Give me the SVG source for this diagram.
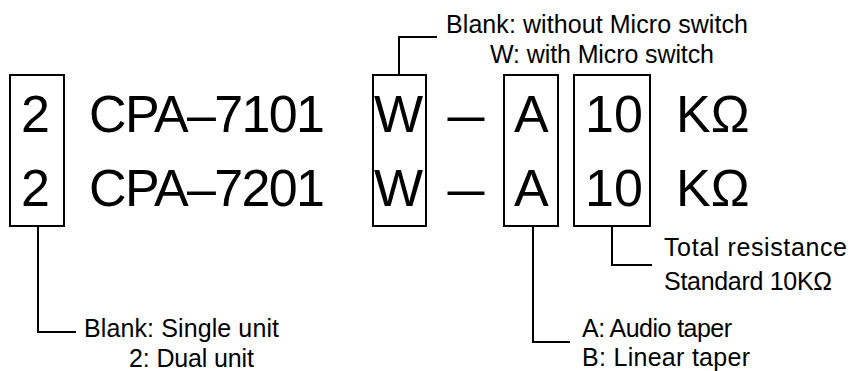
<svg xmlns="http://www.w3.org/2000/svg" width="855" height="371" viewBox="0 0 855 371">
<style>
.box{fill:none;stroke:#000;stroke-width:2}
.ln{fill:none;stroke:#000;stroke-width:2}
.big{font-family:"Liberation Sans",Arial,sans-serif;font-size:52px;fill:#000}
.sm{font-family:"Liberation Sans",Arial,sans-serif;font-size:25px;fill:#000}
</style>
<rect width="855" height="371" fill="#fff"/>
<g id="n-units">
<rect class="box" x="10" y="75" width="54" height="151"/>
<text class="big" x="21" y="132">2</text>
<text class="big" x="21" y="206">2</text>
</g>
<g id="n-model">
<text class="big" x="89" y="132" textLength="236">CPA–7101</text>
<text class="big" x="89" y="206" textLength="236">CPA–7201</text>
</g>
<g id="n-switch">
<rect class="box" x="373" y="75" width="53" height="151"/>
<text class="big" x="374" y="132">W</text>
<text class="big" x="374" y="206">W</text>
</g>
<g id="n-dash">
<text class="big" x="466" y="132" text-anchor="middle" textLength="37" lengthAdjust="spacingAndGlyphs">–</text>
<text class="big" x="466" y="206" text-anchor="middle" textLength="37" lengthAdjust="spacingAndGlyphs">–</text>
</g>
<g id="n-taper">
<rect class="box" x="504" y="75" width="54" height="151"/>
<text class="big" x="514" y="132">A</text>
<text class="big" x="514" y="206">A</text>
</g>
<g id="n-resist">
<rect class="box" x="574" y="75" width="76" height="151"/>
<text class="big" x="585" y="132">10</text>
<text class="big" x="585" y="206">10</text>
</g>
<g id="n-unit">
<text class="big" x="676" y="132">KΩ</text>
<text class="big" x="676" y="206">KΩ</text>
</g>
<g id="connectors">
<polyline class="ln" points="399,75 399,37 437,37"/>
<polyline class="ln" points="38,226 38,332 76,332"/>
<polyline class="ln" points="533,226 533,342 570,342"/>
<polyline class="ln" points="612,226 612,265 652,265"/>
</g>
<g id="n-label-switch">
<text class="sm" x="446" y="33" textLength="302">Blank: without Micro switch</text>
<text class="sm" x="490" y="63" textLength="224">W: with Micro switch</text>
</g>
<g id="n-label-units">
<text class="sm" x="84" y="337" textLength="195">Blank: Single unit</text>
<text class="sm" x="129" y="367" textLength="125">2: Dual unit</text>
</g>
<g id="n-label-taper">
<text class="sm" x="582" y="337" textLength="150">A: Audio taper</text>
<text class="sm" x="582" y="366" textLength="168">B: Linear taper</text>
</g>
<g id="n-label-resist">
<text class="sm" x="664" y="256" textLength="183">Total resistance</text>
<text class="sm" x="664" y="290" textLength="168">Standard 10KΩ</text>
</g>
</svg>
